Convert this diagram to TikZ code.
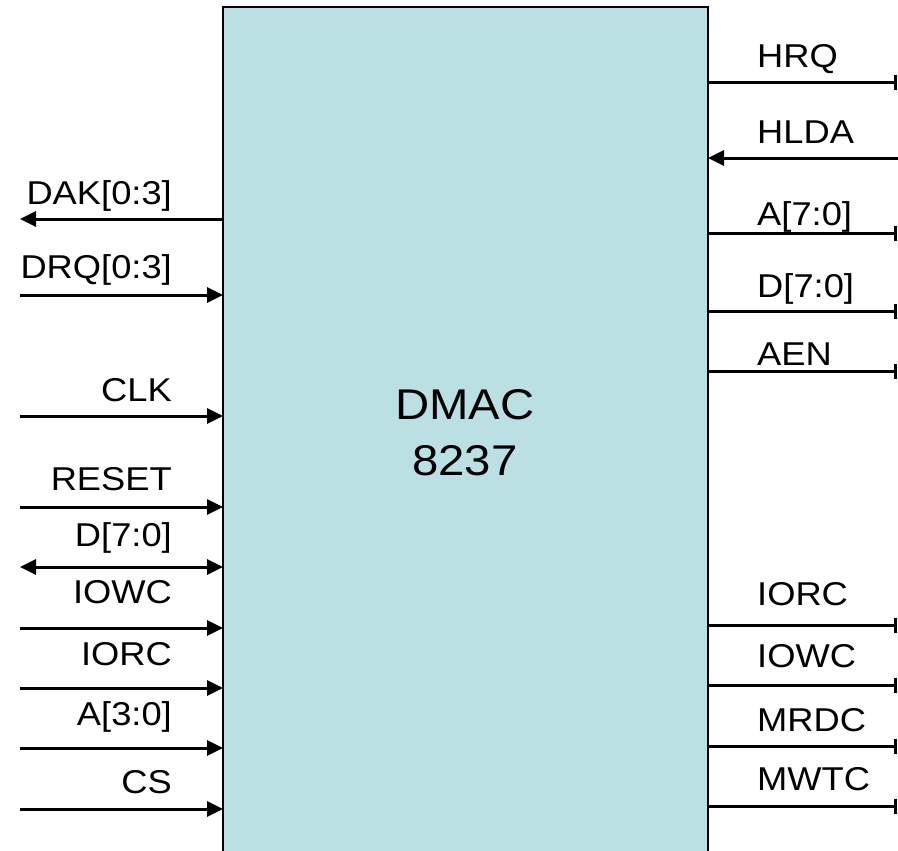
\documentclass[tikz,border=0pt]{standalone}
\usepackage{fontspec}
\setmainfont{Liberation Sans}[FakeStretch=1.1]
\usetikzlibrary{arrows.meta}
\definecolor{chipfill}{RGB}{187,224,227}
\tikzset{
  sig/.style={line width=3pt},
  inarr/.style={sig,-{Triangle[length=16pt,width=15pt]}},
  outarr/.style={sig,{Triangle[length=16pt,width=15pt]}-},
  bidir/.style={sig,{Triangle[length=16pt,width=15pt]}-{Triangle[length=16pt,width=15pt]}},
  rbar/.style={sig,-{Bar[width=15pt,line width=3pt]}},
  lbl/.style={inner sep=0pt,font=\fontsize{33}{33}\selectfont},
  llbl/.style={lbl,anchor=base east},
  rlbl/.style={lbl,anchor=base west},
}
\begin{document}
\begin{tikzpicture}[x=1pt,y=-1pt]
\useasboundingbox (0,0) rectangle (898,851);
\clip (0,0) rectangle (898,851);
\node[draw,line width=2.8pt,fill=chipfill,minimum width=485pt,minimum height=880pt,inner sep=0pt] (chip) at (465.5,447) {};
\node[inner sep=0pt,anchor=base,font=\fontsize{43}{43}\selectfont] (t1) at (465,419) {DMAC};
\node[inner sep=0pt,anchor=base,font=\fontsize{43}{43}\selectfont] (t2) at (465,475) {8237};

% right side
\foreach \n/\y/\b/\t in {hrq/83/68/HRQ, alo/233/225/{A[7:0]}, dlo/311/297/{D[7:0]}, aen/371/365/AEN,
  iorcr/625/605/IORC, iowcr/685/667/IOWC, mrdc/746/731/MRDC, mwtc/806/790/MWTC}{
  \coordinate (\n-s) at (708,\y);
  \coordinate (\n-e) at (897,\y);
  \draw[rbar] (\n-s) -- (\n-e);
  \node[rlbl] (\n-l) at (757,\b) {\t};
}
\coordinate (hlda-s) at (898,158);
\coordinate (hlda-e) at (708,158);
\draw[inarr] (hlda-s) -- (hlda-e);
\node[rlbl] (hlda-l) at (757,143) {HLDA};

% left side
\coordinate (dak-s) at (223,219);
\coordinate (dak-e) at (20,219);
\draw[outarr] (dak-e) -- (dak-s);
\node[llbl] (dak-l) at (172,204) {DAK[0:3]};

\foreach \n/\y/\b/\t in {drq/295/278/{DRQ[0:3]}, clk/416/401/CLK, reset/507/490/RESET,
  iowcl/628/603/IOWC, iorcl/688/665/IORC, al/748/725/{A[3:0]}, cs/809/793/CS}{
  \coordinate (\n-s) at (20,\y);
  \coordinate (\n-e) at (223,\y);
  \draw[inarr] (\n-s) -- (\n-e);
  \node[llbl] (\n-l) at (172,\b) {\t};
}
\coordinate (dl-s) at (20,567);
\coordinate (dl-e) at (223,567);
\draw[bidir] (dl-s) -- (dl-e);
\node[llbl] (dl-l) at (172,546) {D[7:0]};
\end{tikzpicture}
\end{document}
